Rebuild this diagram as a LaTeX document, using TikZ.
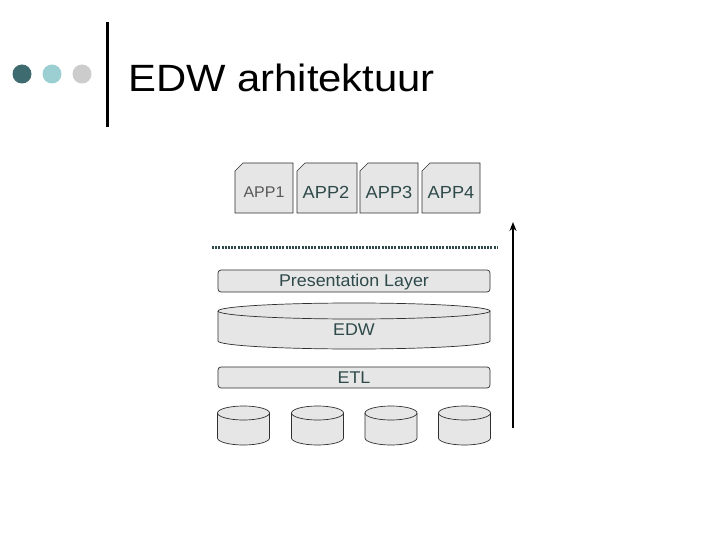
\documentclass[tikz,border=0pt]{standalone}
\usepackage{fontspec}
\setmainfont{Liberation Sans}
\usetikzlibrary{arrows.meta}
\definecolor{dotA}{HTML}{3D6B6F}
\definecolor{dotB}{HTML}{9CCFD1}
\definecolor{dotC}{HTML}{CCCCCC}
\definecolor{boxfill}{HTML}{E6E6E6}
\definecolor{tealtext}{HTML}{2F4A4A}
\definecolor{edge}{HTML}{303030}
\tikzset{
  shapebox/.style={fill=boxfill, draw=edge, line width=0.7pt},
  apptxt/.style={font=\fontsize{17.5}{20}\selectfont, text=tealtext, xscale=1.04},
  layertxt/.style={font=\fontsize{17}{20}\selectfont, text=tealtext, xscale=1.05},
}
\begin{document}
\begin{tikzpicture}[x=1pt,y=1pt]
\useasboundingbox (0,0) rectangle (720,-540);
\fill[white] (0,0) rectangle (720,-540);
% title decoration
\fill[dotA] (22,-74) circle (9.5);
\fill[dotB] (52,-74) circle (9.5);
\fill[dotC] (82,-74) circle (9.5);
\draw[line width=3pt] (107,-22) -- (107,-127);
\node[anchor=base west, inner sep=0pt, xscale=1.1, font=\fontsize{38}{40}\selectfont] (title) at (128,-91.5) {EDW arhitektuur};
% apps
\foreach \xa/\xb/\nm in {235/293/1, 297/357/2, 360/418/3, 422/480/4}{
  \draw[shapebox] (\xa+8,-163) -- (\xb,-163) -- (\xb,-213) -- (\xa,-213) -- (\xa,-171) -- cycle;
}
\node[font=\fontsize{15.5}{18}\selectfont, text=black!65, xscale=1.03] (app1) at (264,-192) {APP1};
\node[apptxt] (app2) at (326,-192.5) {APP2};
\node[apptxt] (app3) at (389,-192.5) {APP3};
\node[apptxt] (app4) at (451,-192.5) {APP4};
% dotted separator
\coordinate (sepL) at (212,-247);
\coordinate (sepR) at (497,-247);
\draw[tealtext, line width=3pt, dash pattern=on 2pt off 1.2pt] (sepL) -- (sepR);
% arrow
\coordinate (arrB) at (513,-428);
\coordinate (arrT) at (513,-222);
\draw[line width=2pt, -{Stealth[length=9pt,width=7pt]}] (arrB) -- (arrT);
% presentation layer
\draw[shapebox, rounded corners=3pt] (218,-270) rectangle (490,-292);
\node[layertxt] (pres) at (354,-282) {Presentation Layer};
% EDW disk
\draw[shapebox] (218,-311) -- (218,-341) arc[start angle=180, end angle=360, x radius=136, y radius=8] -- (490,-311) arc[start angle=0, end angle=180, x radius=136, y radius=8] -- cycle;
\draw[edge, line width=0.7pt] (218,-311) arc[start angle=180, end angle=360, x radius=136, y radius=8];
\node[layertxt] (edw) at (354,-330) {EDW};
% ETL
\draw[shapebox, rounded corners=3pt] (218,-367) rectangle (490,-388);
\node[layertxt] (etl) at (354,-378) {ETL};
% source databases
\foreach \cx in {243.5, 317.5, 391, 464.5}{
  \draw[shapebox] (\cx-26,-413) -- (\cx-26,-438) arc[start angle=180, end angle=360, x radius=26, y radius=7] -- (\cx+26,-413) arc[start angle=0, end angle=180, x radius=26, y radius=7] -- cycle;
  \draw[edge, line width=0.7pt] (\cx-26,-413) arc[start angle=180, end angle=360, x radius=26, y radius=7];
}
\end{tikzpicture}
\end{document}
